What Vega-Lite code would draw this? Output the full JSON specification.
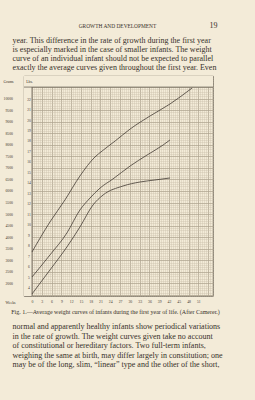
{
  "$schema": "https://vega.github.io/schema/vega-lite/v6.json",
  "width": 189,
  "height": 220,
  "autosize": {"type": "none"},
  "padding": {"left": 24, "top": 76, "right": 42, "bottom": 104},
  "background": "#f3ebd8",
  "config": {
    "view": {"stroke": "#5a5248", "strokeWidth": 0.8},
    "font": "Liberation Serif",
    "axis": {"titleFontWeight": "normal", "titleColor": "#38312a", "labelColor": "#433c34", "titleFont": "Liberation Serif", "labelFont": "Liberation Serif", "titleAngle": 0, "labelOverlap": false, "labelFlush": false}
  },
  "data": {"values": [
    {"curve": "A", "week": 0, "grams": 3356},
    {"curve": "A", "week": 5.5, "grams": 4656},
    {"curve": "A", "week": 10.1, "grams": 5609},
    {"curve": "A", "week": 14.7, "grams": 6648},
    {"curve": "A", "week": 19.3, "grams": 7471},
    {"curve": "A", "week": 21.5, "grams": 7731},
    {"curve": "A", "week": 25.5, "grams": 8165},
    {"curve": "A", "week": 30.1, "grams": 8684},
    {"curve": "A", "week": 36.2, "grams": 9248},
    {"curve": "A", "week": 42.3, "grams": 9767},
    {"curve": "A", "week": 49.1, "grams": 10461},
    {"curve": "B", "week": 0, "grams": 2273},
    {"curve": "B", "week": 5.5, "grams": 3226},
    {"curve": "B", "week": 10.7, "grams": 4179},
    {"curve": "B", "week": 14.7, "grams": 5176},
    {"curve": "B", "week": 17.8, "grams": 5695},
    {"curve": "B", "week": 20.9, "grams": 6129},
    {"curve": "B", "week": 24.8, "grams": 6518},
    {"curve": "B", "week": 30.1, "grams": 7082},
    {"curve": "B", "week": 35.3, "grams": 7558},
    {"curve": "B", "week": 40.2, "grams": 7991},
    {"curve": "B", "week": 42.3, "grams": 8208},
    {"curve": "C", "week": 0, "grams": 1537},
    {"curve": "C", "week": 5.5, "grams": 2576},
    {"curve": "C", "week": 10.7, "grams": 3573},
    {"curve": "C", "week": 14.7, "grams": 4439},
    {"curve": "C", "week": 18.7, "grams": 5392},
    {"curve": "C", "week": 21.8, "grams": 5825},
    {"curve": "C", "week": 27.9, "grams": 6215},
    {"curve": "C", "week": 33.1, "grams": 6388},
    {"curve": "C", "week": 37.7, "grams": 6475},
    {"curve": "C", "week": 42.3, "grams": 6562}
  ]},
  "layer": [
    {
      "data": {"values": [{}]},
      "mark": {"type": "rect", "fill": "#f3ebd8"},
      "encoding": {
        "x": {"datum": -2.45, "type": "quantitative", "scale": {"domain": [-2.45, 55.5], "nice": false, "zero": false},
          "axis": {"orient": "top", "values": [0,0.6,1.2,1.8,2.4,3,3.6,4.2,4.8,5.4,6,6.6,7.2,7.8,8.4,9,9.6,10.2,10.8,11.4,12,12.6,13.2,13.8,14.4,15,15.6,16.2,16.8,17.4,18,18.6,19.2,19.8,20.4,21,21.6,22.2,22.8,23.4,24,24.6,25.2,25.8,26.4,27,27.6,28.2,28.8,29.4,30,30.6,31.2,31.8,32.4,33,33.6,34.2,34.8,35.4,36,36.6,37.2,37.8,38.4,39,39.6,40.2,40.8,41.4,42,42.6,43.2,43.8,44.4,45,45.6,46.2,46.8,47.4,48,48.6,49.2,49.8,50.4,51,51.6,52.2,52.8,53.4,54,54.6,55.2],
            "grid": true, "gridColor": "#c9bfab", "gridWidth": 0.4, "labels": false, "ticks": false, "domain": false,
            "title": "GROWTH AND DEVELOPMENT", "titleX": 93, "titleY": -51, "titleAlign": "center", "titleBaseline": "middle", "titleFontSize": 5.4}},
        "x2": {"datum": 55.5},
        "y": {"datum": 10500, "type": "quantitative", "scale": {"domain": [1450, 10980], "nice": false, "zero": false},
          "axis": {"orient": "right", "tickCount": 95, "grid": true, "gridColor": "#c9bfab", "gridWidth": 0.4, "labels": false, "ticks": false, "domain": false,
            "title": "19", "titleX": 0, "titleY": -51, "titleAlign": "center", "titleBaseline": "middle", "titleFontSize": 8}},
        "y2": {"datum": 10980}
      }
    },
    {
      "data": {"values": [{}]},
      "mark": {"type": "rect", "fill": "#f3ebd8"},
      "encoding": {
        "x": {"datum": -2.45, "type": "quantitative", "scale": {"domain": [-2.45, 55.5], "nice": false, "zero": false}, "axis": null},
        "x2": {"datum": 0},
        "y": {"datum": 1450, "type": "quantitative", "scale": {"domain": [1450, 10980], "nice": false, "zero": false}, "axis": null},
        "y2": {"datum": 10500}
      }
    },
    {
      "mark": {"type": "line", "stroke": "#3a322b", "strokeWidth": 0.75, "interpolate": "monotone"},
      "encoding": {
        "x": {"field": "week", "type": "quantitative", "scale": {"domain": [-2.45, 55.5], "nice": false, "zero": false},
          "axis": {"orient": "bottom", "values": [0,3,6,9,12,15,18,21,24,27,30,33,36,39,42,45,48,51,54], "labelExpr": "datum.value > 52 ? '' : datum.label",
            "grid": true, "gridColor": "#a89e8a", "gridWidth": 0.6, "ticks": false, "tickSize": 0, "domain": false, "labelFontSize": 3.8, "labelPadding": 3,
            "title": "Weeks", "titleX": -14, "titleY": 6, "titleAlign": "center", "titleBaseline": "middle", "titleFontSize": 3.8}},
        "y": {"field": "grams", "type": "quantitative", "scale": {"domain": [1450, 10980], "nice": false, "zero": false},
          "axis": {"orient": "left", "values": [1500,2000,2500,3000,3500,4000,4500,5000,5500,6000,6500,7000,7500,8000,8500,9000,9500,10000,10500], "format": "d",
            "labelExpr": "datum.value < 2000 || datum.value > 10000 ? '' : datum.label",
            "grid": true, "gridColor": "#a89e8a", "gridWidth": 0.6, "ticks": false, "tickSize": 0, "domain": false, "labelFontSize": 3.8, "labelPadding": 11.5, "labelBaseline": "middle",
            "title": "Grams", "titleX": -16, "titleY": 5, "titleAlign": "center", "titleBaseline": "middle", "titleFontSize": 3.8}},
        "detail": {"field": "curve"}
      }
    },
    {
      "data": {"values": [{}]},
      "mark": {"type": "rule", "stroke": "#5a5248", "strokeWidth": 0.7},
      "encoding": {
        "x": {"datum": -2.45, "type": "quantitative", "scale": {"domain": [-2.45, 55.5], "nice": false, "zero": false},
          "axis": {"orient": "top", "labels": false, "ticks": false, "domain": false, "grid": false,
            "title": ["year.  This difference in the rate of growth during the first year", "is especially marked in the case of smaller infants.  The weight", "curve of an individual infant should not be expected to parallel", "exactly the average curves given throughout the first year.  Even"],
            "titleX": -12, "titleY": -33.5, "titleAlign": "left", "titleBaseline": "alphabetic", "titleFontSize": 8, "titleLineHeight": 9}},
        "x2": {"datum": 55.5},
        "y": {"datum": 10500, "type": "quantitative", "scale": {"domain": [1450, 10980], "nice": false, "zero": false},
          "axis": {"orient": "left", "offset": -8, "values": [1814,2268,2722,3175,3629,4082,4536,4990,5443,5897,6350,6804,7257,7711,8165,8618,9072,9525,9979],
            "labelExpr": "format(datum.value / 453.592, '.0f')", "grid": false, "ticks": false, "tickSize": 0, "domain": false,
            "labelAlign": "center", "labelPadding": 3.5, "labelFontSize": 3.6, "labelBaseline": "middle", "zindex": 1,
            "title": "Lbs.", "titleX": -3, "titleY": 5, "titleAlign": "center", "titleBaseline": "middle", "titleFontSize": 3.8}}
      }
    },
    {
      "data": {"values": [{}]},
      "mark": {"type": "rule", "stroke": "#5a5248", "strokeWidth": 0.7},
      "encoding": {
        "x": {"datum": 0, "type": "quantitative", "scale": {"domain": [-2.45, 55.5], "nice": false, "zero": false},
          "axis": {"orient": "bottom", "labels": false, "ticks": false, "domain": false, "grid": false,
            "title": "Fig. 1.—Average weight curves of infants during the first year of life. (After Camerer.)",
            "titleX": 91, "titleY": 15, "titleAlign": "center", "titleBaseline": "middle", "titleFontSize": 6}},
        "y": {"datum": 1450, "type": "quantitative", "scale": {"domain": [1450, 10980], "nice": false, "zero": false},
          "axis": {"orient": "right", "labels": false, "ticks": false, "domain": false, "grid": false,
            "title": ["normal and apparently healthy infants show periodical variations", "in the rate of growth.  The weight curves given take no account", "of constitutional or hereditary factors.  Two full-term infants,", "weighing the same at birth, may differ largely in constitution; one", "may be of the long, slim, “linear” type and the other of the short,"],
            "titleX": -201, "titleY": 252.5, "titleAlign": "left", "titleBaseline": "alphabetic", "titleFontSize": 8, "titleLineHeight": 9.5}},
        "y2": {"datum": 10500}
      }
    }
  ],
  "resolve": {"axis": {"x": "independent", "y": "independent"}}
}
